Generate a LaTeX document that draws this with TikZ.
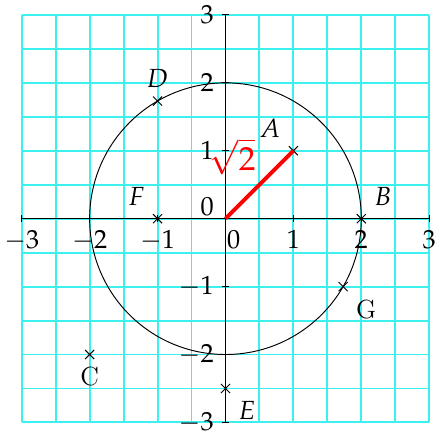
\documentclass[tikz,border=0pt]{standalone}
\usepackage{mathpazo}
\usetikzlibrary{shapes.misc}
\definecolor{gridcyan}{RGB}{60,240,240}

\begin{document}
\begin{tikzpicture}[>=stealth, scale=1.0, font=\fontsize{11}{13}\selectfont,
    pt/.style={cross out,draw,inner sep=0pt,minimum size=3.4pt}]
  \useasboundingbox (-3.32,-3.2) rectangle (3.09,3.22);
  \draw[gridcyan,thick,step=0.5] (-3,-3) grid (3,3);
  \coordinate (O) at (0,0);
  \draw (-3,0) -- (3,0);
  \draw (0,-3) -- (0,3);
  \foreach \x in {-3,-2,-1,1,2,3}
    \draw (\x,0.05) -- (\x,-0.05) node[below] (xl\x) {$\x$};
  \foreach \y in {-3,-2,-1,1,2,3}
    \draw (0.05,\y) -- (-0.05,\y) node[left] (yl\y) {$\y$};
  \node[below] (xl0) at (0.12,-0.05) {$0$};
  \node[left] (yl0) at (-0.05,0.17) {$0$};
  \draw (O) circle (2);
  \node[pt,label=above left:{$A$}] (A) at (1,1) {};
  \node[pt,label=above right:{$B$}] (B) at (2,0) {};
  \node[pt,label=below:{C}] (C) at (-2,-2) {};
  \node[pt,label=above:{$D$}] (D) at (-1,{sqrt(3)}) {};
  \node[pt,label=below right:{$E$}] (E) at (0,-2.5) {};
  \node[pt,label=above left:{$F$}] (F) at (-1,0) {};
  \node[pt,label=below right:{G}] (G) at ({sqrt(3)},-1) {};
  \draw[red,line width=1.6pt] (O) -- (A.center)
    node[midway,above left,inner sep=0pt,xshift=-0.03cm,yshift=0.12cm,
      font=\fontsize{14}{17}\selectfont] (r) {$\sqrt{2}$};
\end{tikzpicture}
\end{document}
